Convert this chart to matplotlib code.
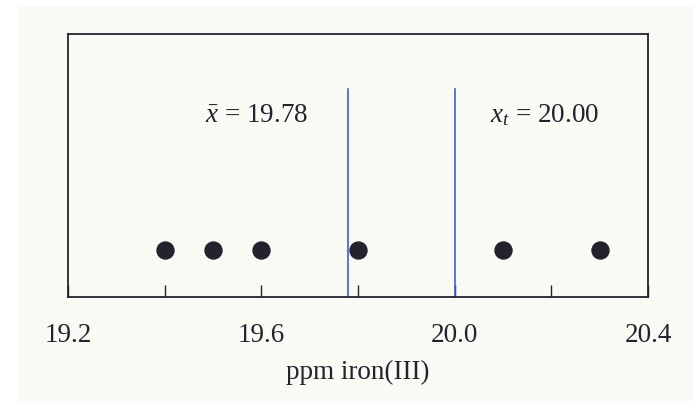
import matplotlib
matplotlib.use('Agg')
import matplotlib.pyplot as plt
from matplotlib.patches import Rectangle

# Data
results = [19.4, 19.5, 19.6, 19.8, 20.1, 20.3]   # ppm iron(III)
x_mean = 19.78
x_true = 20.00
label_ticks = [19.2, 19.6, 20.0, 20.4]
minor_ticks = [19.4, 19.8, 20.2]

plt.rcParams['font.family'] = ['Liberation Serif', 'DejaVu Serif']
plt.rcParams['mathtext.fontset'] = 'custom'
plt.rcParams['mathtext.rm'] = 'Liberation Serif'
plt.rcParams['mathtext.it'] = 'Liberation Serif:italic'

paper = '#fafaf5'
ink = '#23232e'
blue = '#3a5ee0'
fs = 19.5

fig = plt.figure(figsize=(6.93, 4.03), dpi=100, facecolor='white')
# scanned page area, kept behind the axes
fig.patches.append(Rectangle((18/693, 3/403), 1 - 18/693, 394/403,
                             transform=fig.transFigure, color=paper, zorder=-10))

ax = fig.add_axes([68/693, 106/403, 580/693, 263/403])
ax.set_facecolor(paper)
ax.set_xlim(19.2, 20.4)
ax.set_ylim(0, 1)

ax.scatter(results, [0.18]*len(results), s=150, color=ink, zorder=3)

for v in (x_mean, x_true):
    ax.plot([v, v], [0, 0.79], color=blue, lw=1.2, zorder=2)

ax.text(19.483, 0.69, r'$\bar{x}$ = %.2f' % x_mean, fontsize=fs, color=ink, va='center')
ax.text(20.073, 0.69, r'$x_t$ = %.2f' % x_true, fontsize=fs, color=ink, va='center')

ax.set_xticks(label_ticks)
ax.set_xticklabels(['%.1f' % t for t in label_ticks])
ax.set_xticks(minor_ticks, minor=True)
ax.tick_params(axis='x', which='both', direction='in', length=9, width=1, color=ink,
               pad=19, labelsize=fs, labelcolor=ink)
ax.set_yticks([])
ax.set_xlabel('ppm iron(III)', fontsize=fs, color=ink, labelpad=8)

for s in ax.spines.values():
    s.set_color(ink)
    s.set_linewidth(1.3)

plt.savefig('out.png', dpi=100, facecolor='white')
